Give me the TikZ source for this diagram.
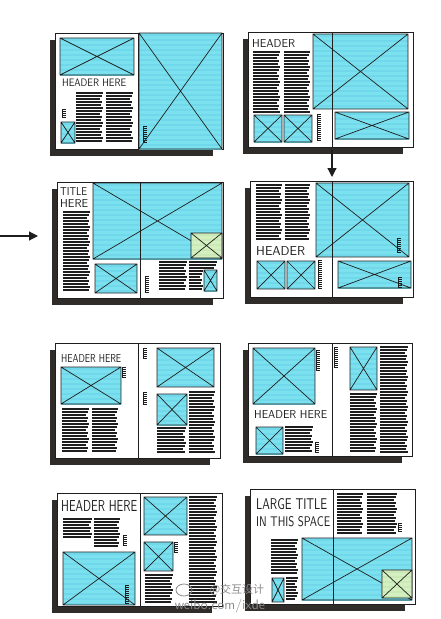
\documentclass[tikz,border=0pt]{standalone}
\usepackage{fontspec}
\usepackage{graphicx}
\usepackage{tikz}
\usetikzlibrary{arrows.meta}
\newfontfamily\cjk{Noto Sans CJK SC}

\definecolor{imgcyan}{RGB}{124,225,239}
\definecolor{stripecyan}{RGB}{112,216,234}
\definecolor{imggreen}{RGB}{212,240,192}
\definecolor{stripegreen}{RGB}{202,233,182}
\definecolor{shadowgray}{RGB}{48,44,42}
\definecolor{ink}{RGB}{30,30,30}
\definecolor{wmgray}{RGB}{140,140,140}

% one open spread: left, top, right, bottom
\newcommand{\spreadpage}[4]{%
	\fill[shadowgray] (#1-5,#2+7) rectangle (#3-10,#4+7);
	\draw[pageline,fill=white] (#1,#2) rectangle (#3,#4);}

% picture placeholder: box with a cross
\newcommand{\imgbox}[5][imgcyan]{%
	\fill[#1] (#2,#3) rectangle (#4,#5);
	\begin{scope}
		\clip (#2,#3) rectangle (#4,#5);
		\pgfmathtruncatemacro\nstripe{(#5-#3)/5}
		\foreach \k in {0,...,\nstripe}
			\draw[stripe#1] (#2,{#3+2+5*\k}) -- (#4,{#3+2+5*\k});
	\end{scope}
	\draw[boxline] (#2,#3) rectangle (#4,#5) (#2,#3) -- (#4,#5) (#2,#5) -- (#4,#3);}

% column of body text
\newcommand{\txtblock}[4]{%
	\pgfmathtruncatemacro\nline{(#4-#2)/3}
	\foreach \k in {0,...,\nline}
		\draw[txtline] (#1,{#2+3*\k}) -- ({#3-mod(7*\k,5)*0.7},{#2+3*\k});}

% small caption
\newcommand{\capbar}[3]{%
	\pgfmathtruncatemacro\ncap{(#3-#2)/2}
	\draw[capline] (#1,#2) -- (#1,#3);
	\foreach \k in {0,...,\ncap}
		\draw[capline] (#1,{#2+2*\k}) -- (#1+4,{#2+2*\k});}

\begin{document}
\begin{tikzpicture}[x=1pt,y=-1pt,
		pageline/.style={draw=ink,line width=0.8pt},
		boxline/.style={draw=ink,line width=0.7pt},
		txtline/.style={draw=ink,line width=1.15pt},
		capline/.style={draw=ink,line width=0.6pt},
		stripeimgcyan/.style={draw=stripecyan,line width=1.4pt},
		stripeimggreen/.style={draw=stripegreen,line width=1.4pt},
		hand/.style={inner sep=0,anchor=west,text=ink,font=\sffamily},
		wmtext/.style={inner sep=0,text=wmgray},
		flowarrow/.style={draw=ink,line width=1.2pt,-{Triangle[length=9pt,width=9pt]}}]
	\useasboundingbox (0,0) rectangle (440,619);

	% row 1, left
	\spreadpage{55}{33}{223}{149}
	\imgbox{60}{38}{134}{75}
	\node[hand] (headA) at (62,83) {\resizebox{64pt}{7.5pt}{HEADER HERE}};
	\txtblock{76}{93}{103}{143}
	\txtblock{106}{93}{133}{143}
	\imgbox{61}{122}{75}{143}
	\capbar{62}{109}{117}
	\imgbox{139}{33}{222}{149}
	\capbar{143}{126}{143}
	\draw[pageline] (138,33) -- (138,149);

	% row 1, right
	\spreadpage{248}{32}{413}{147}
	\node[hand] (headB) at (252,43) {\resizebox{43pt}{8pt}{HEADER}};
	\txtblock{253}{52}{280}{112}
	\txtblock{284}{52}{310}{112}
	\imgbox{313}{34}{408}{109}
	\imgbox{254}{115}{282}{142}
	\imgbox{284}{115}{312}{142}
	\capbar{317}{114}{141}
	\imgbox{335}{112}{409}{139}
	\draw[pageline] (332,32) -- (332,147);

	% row 2, left
	\spreadpage{57}{182}{223}{298}
	\node[hand] (titleA) at (60,191) {\resizebox{27pt}{8pt}{TITLE}};
	\node[hand] (titleB) at (60,203) {\resizebox{28pt}{8pt}{HERE}};
	\txtblock{63}{212}{90}{292}
	\imgbox{93}{183}{222}{259}
	\imgbox[imggreen]{191}{233}{222}{258}
	\imgbox{95}{264}{137}{293}
	\capbar{145}{276}{292}
	\txtblock{159}{262}{187}{290}
	\txtblock{189}{262}{217}{268}
	\txtblock{189}{271}{203}{290}
	\imgbox{204}{270}{217}{291}
	\draw[pageline] (140,182) -- (140,298);

	% row 2, right
	\spreadpage{250}{181}{413}{297}
	\txtblock{256}{185}{282}{240}
	\txtblock{285}{185}{310}{240}
	\node[hand] (headC) at (256,251) {\resizebox{49pt}{9pt}{HEADER}};
	\imgbox{316}{183}{409}{257}
	\capbar{397}{238}{252}
	\imgbox{257}{261}{285}{289}
	\imgbox{287}{261}{315}{289}
	\capbar{318}{260}{288}
	\imgbox{338}{261}{411}{288}
	\capbar{398}{277}{287}
	\draw[pageline] (332,181) -- (332,297);

	% row 3, left
	\spreadpage{55}{343}{220}{458}
	\node[hand] (headD) at (61,358) {\resizebox{60pt}{8pt}{HEADER HERE}};
	\imgbox{61}{367}{121}{404}
	\capbar{122}{367}{377}
	\txtblock{62}{409}{89}{453}
	\txtblock{92}{409}{118}{453}
	\capbar{143}{348}{358}
	\capbar{143}{392}{405}
	\imgbox{157}{348}{214}{387}
	\imgbox{157}{394}{187}{425}
	\txtblock{189}{392}{215}{453}
	\txtblock{157}{428}{186}{453}
	\draw[pageline] (138,343) -- (138,458);

	% row 3, right
	\spreadpage{248}{343}{412}{456}
	\imgbox{253}{348}{315}{404}
	\capbar{316}{350}{370}
	\node[hand] (headE) at (254,414) {\resizebox{73pt}{8pt}{HEADER HERE}};
	\imgbox{256}{427}{283}{454}
	\txtblock{285}{427}{313}{453}
	\capbar{315}{442}{452}
	\capbar{334}{347}{368}
	\imgbox{350}{347}{377}{390}
	\txtblock{380}{347}{408}{452}
	\txtblock{350}{394}{377}{452}
	\draw[pageline] (332,343) -- (332,456);

	% row 4, left
	\spreadpage{57}{493}{222}{606}
	\node[hand] (headF) at (61,506) {\resizebox{76pt}{11pt}{HEADER HERE}};
	\txtblock{63}{519}{92}{538}
	\txtblock{94}{519}{120}{546}
	\capbar{123}{535}{545}
	\imgbox{63}{552}{135}{605}
	\capbar{125}{585}{604}
	\imgbox{144}{497}{187}{535}
	\imgbox{144}{542}{173}{571}
	\capbar{174}{542}{553}
	\txtblock{189}{497}{217}{602}
	\txtblock{145}{575}{173}{602}
	\draw[pageline] (140,493) -- (140,606);

	% row 4, right
	\spreadpage{250}{489}{415}{604}
	\node[hand] (titleC) at (256,504) {\resizebox{71pt}{11pt}{LARGE TITLE}};
	\node[hand] (titleD) at (256,522) {\resizebox{74pt}{10pt}{IN THIS SPACE}};
	\txtblock{337}{494}{363}{533}
	\txtblock{367}{494}{397}{533}
	\capbar{398}{523}{532}
	\imgbox{302}{538}{412}{600}
	\imgbox[imggreen]{382}{570}{412}{598}
	\txtblock{271}{540}{298}{575}
	\imgbox{272}{578}{284}{602}
	\txtblock{286}{578}{298}{600}
	\draw[pageline] (333,489) -- (333,604);

	% arrows
	\coordinate (inlet) at (0,236);
	\coordinate (inletTip) at (38,236);
	\coordinate (downFrom) at (332,150);
	\coordinate (downTo) at (332,177);
	\draw[flowarrow] (inlet) -- (inletTip);
	\draw[flowarrow] (downFrom) -- (downTo);

	% watermark
	\draw[wmgray,line width=0.8pt] (184,590) ellipse (8pt and 6pt);
	\node[wmtext] (wmcn) at (237,590) {\cjk\fontsize{11pt}{12pt}\selectfont @交互设计};
	\node[wmtext] (wmurl) at (220,606) {\resizebox{90pt}{!}{\sffamily weibo.com/ixde}};
\end{tikzpicture}
\end{document}
